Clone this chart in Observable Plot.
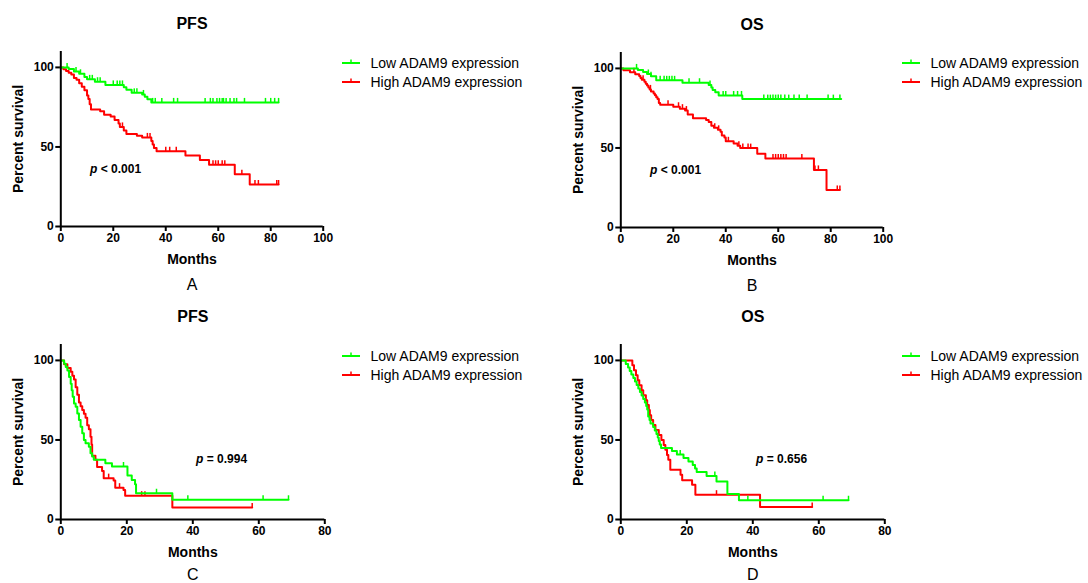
<!DOCTYPE html>
<html><head><meta charset="utf-8">
<script src="https://cdn.jsdelivr.net/npm/d3@7"></script>
<script src="https://cdn.jsdelivr.net/npm/@observablehq/plot@0.6"></script>
<style>
body{margin:0;background:#fff;font-family:"Liberation Sans",Arial,sans-serif;}
#root{position:relative;width:1088px;height:583px;overflow:hidden;background:#fff;}
.panel{position:absolute;width:540px;height:300px;}
.panel svg{max-width:none !important;}
.legend{position:absolute;font-size:14px;color:#000;}
.legend .row{display:flex;align-items:center;height:19.6px;white-space:nowrap;}
.pval{position:absolute;font-size:12px;font-weight:bold;line-height:14px;white-space:nowrap;}
</style></head><body><div id="root"></div>
<script>
// ---- data ----
const panelTitles = ["PFS", "OS", "PFS", "OS"];
const panelLetters = ["A", "B", "C", "D"];
const seriesNames = ["Low ADAM9 expression", "High ADAM9 expression"];
const pLabels = ["< 0.001", "< 0.001", "= 0.994", "= 0.656"];
const xMaxes = [100, 100, 80, 80];
const xTicksTop = [0, 20, 40, 60, 80, 100];
const xTicksBottom = [0, 20, 40, 60, 80];
const yTicks = [0, 50, 100];

// Panel A (PFS)
const aLowSteps = [[0,100],[3,99],[5,97.5],[7,96],[9,94],[10,92.5],[13,91],[17,89],[24,87.5],[25,86],[27,84],[31,83],[32,81.5],[33,80],[34.5,78]];
const aLowEnd = 83;
const aLowCens = [2.4,5.8,7.5,11,12,14,15,20,21.5,22.5,23.5,28,29,31.5,35,36,38.5,43,44.5,55,57,58,59.5,60.5,61.5,62,63,64.5,66,67,70,78,80,81.5,83];
const aHighSteps = [[0,100],[1,98.9],[2,97.8],[3,96.7],[4,95.6],[5,93.4],[6,92.3],[7,90.1],[8,87.9],[9,85.7],[10,82.4],[10.5,80.2],[11,76.9],[11.5,73.6],[15,72.5],[16.5,70.3],[19,69.2],[20.5,67],[22,64.8],[22.5,62.6],[24,60.4],[25,58.2],[29,57.1],[31,56],[34.5,53.8],[35,51.6],[35.5,49.4],[36.5,47.3],[47.5,44.6],[53,41.8],[56.5,38.8],[66.3,32.9],[72,26.4]];
const aHighEnd = 83;
const aHighCens = [23.5,33,34,40,41.5,44,58,59,60,61.5,62.5,69,74,75.3,82.3,83];

// Panel B (OS)
const bLowSteps = [[0,100],[6.5,99],[8.5,97.7],[10,96.5],[11.5,95],[13.5,92.5],[23.5,91],[33.5,89.5],[34.5,88],[35,86.5],[36,85],[37.3,83],[46.3,80.7]];
const bLowEnd = 84;
const bLowCens = [6,10.5,11.5,15,16.5,17.5,18.5,19.5,20.5,26,30,34,39,40,43,44.5,46,54.5,56,57,58,59,60,61,62.5,64,66,68,71,79,81,83.5];
const bHighSteps = [[0,100],[1,98.8],[3.5,97.6],[5.5,96.4],[7,95.2],[7.5,94],[8,92.8],[9,91.6],[9.5,90.4],[10,89.2],[10.5,88],[11,86.8],[11.5,85.5],[12.5,84.3],[13,83.1],[13.5,81.9],[14,80.7],[14.5,78.3],[15,77.1],[20,75.9],[22.5,74.7],[24.5,73.5],[25.5,71.1],[27.5,68.7],[32.5,67.5],[33.5,66.3],[34.5,63.9],[35.5,62.7],[37,61.4],[38,60.2],[38.5,57.8],[39.5,56.6],[40,54.2],[43,52.8],[44.5,51.4],[45.5,49.9],[52,46.3],[55.1,43.4],[73.6,36.2],[78.4,23.6]];
const bHighEnd = 83.5;
const bHighCens = [5,8.5,11.3,18,22,23.5,25,35.8,37.3,41,45,46.5,48.5,49.5,58,59,60,61,62,63,69,74,75.3,82.5,83.5];

// Panel C (PFS)
const cLowSteps = [[0,100],[1,97.9],[1.5,95.8],[2,93.7],[2.5,89.6],[3,85.4],[3.3,81.2],[3.6,77.1],[4,72.9],[4.5,70.8],[5,66.7],[5.5,62.5],[6,58.3],[6.5,54.2],[7,50],[7.5,47.9],[8.5,45.8],[9,41.7],[9.5,39.6],[10,37.5],[13.5,35.4],[15.5,33.3],[20.2,27.7],[21.5,24.9],[22.5,22.1],[22.8,16.5],[33.8,12.4]];
const cLowEnd = 69;
const cLowCens = [19,29,38.5,61.3,69];
const cHighSteps = [[0,100],[1,97.6],[2,95.2],[3,92.8],[3.5,90.4],[4,88],[4.5,83.2],[5,78.4],[5.5,73.6],[6,71.2],[6.5,68.8],[7,66.4],[7.5,64],[8,59.2],[8.5,56.8],[9,52],[9.3,47.2],[9.5,40],[10.5,37.5],[11,33],[12.5,30.5],[13,26],[16,24.5],[16.5,20],[19,18.5],[19.5,15],[33.8,7.5]];
const cHighEnd = 58;
const cHighCens = [14.5,17.8,24.5,25.5,58];

// Panel D (OS)
const dLowSteps = [[0,100],[1.5,97.8],[2.2,95.6],[2.7,93.4],[3.2,91.2],[3.8,89],[4.3,86.8],[4.8,84.6],[5.3,82.4],[5.8,80.2],[6.3,78],[6.8,75.8],[7.3,73.6],[7.7,71.4],[8,69.2],[8.3,64.8],[8.7,62.6],[9,60.4],[9.8,58.2],[10.3,56],[10.8,53.8],[11.2,51.6],[11.5,49.4],[11.8,47.2],[12.2,45],[15.5,43],[17,40.8],[19,38.6],[20.5,36.4],[21.8,34.2],[22.5,32],[23,29.8],[26,27.3],[29,23.9],[32.3,16],[35.8,12.1]];
const dLowEnd = 69;
const dLowCens = [18,28.5,38.5,61.3,69];
const dHighSteps = [[0,100],[3.5,96.9],[4,93.8],[4.6,90.6],[5.1,87.5],[5.6,84.4],[6.3,81.3],[6.8,78.1],[7.6,75],[8,71.9],[8.5,68.8],[8.8,65.6],[9.2,62.5],[9.8,59.4],[10.5,56.3],[11.5,53.1],[12.3,50],[13,46.9],[13.5,43.8],[14,40.6],[14.4,37.5],[15,31.3],[18.1,28.1],[18.6,24.6],[21.6,21.9],[22.6,15.6],[42.2,7.8]];
const dHighEnd = 58;
const dHighCens = [29,58];

// ---- helpers ----
const LOW = "#00ff00", HIGH = "#ff0000";
function curve(steps, end){
  const pts = steps.map(([t,s]) => ({t, s}));
  pts.push({t: end, s: steps[steps.length-1][1]});
  return pts;
}
function censors(steps, times){
  return times.map(t => {
    let s = steps[0][1];
    for (const [tt, ss] of steps) if (tt <= t) s = ss;
    return {t, s};
  });
}
const tickUp = {draw(ctx, size){ const r = Math.sqrt(size/Math.PI); ctx.moveTo(0,0); ctx.lineTo(0,-r); }};

const panels = [
  {low:[aLowSteps,aLowEnd,aLowCens], high:[aHighSteps,aHighEnd,aHighCens], left:0, top:0, xTicks:xTicksTop, letterDy:58},
  {low:[bLowSteps,bLowEnd,bLowCens], high:[bHighSteps,bHighEnd,bHighCens], left:560, top:0.7, xTicks:xTicksTop, letterDy:58},
  {low:[cLowSteps,cLowEnd,cLowCens], high:[cHighSteps,cHighEnd,cHighCens], left:0, top:293.3, xTicks:xTicksBottom, letterDy:55},
  {low:[dLowSteps,dLowEnd,dLowCens], high:[dHighSteps,dHighEnd,dHighCens], left:560, top:293.3, xTicks:xTicksBottom, letterDy:55}
];
const pPos = [[90,162],[650,163],[196,452],[756,452]];
const legendPos = [[341,52.9],[901,52.9],[341,346],[901,346]];

const root = document.getElementById("root");
panels.forEach((p, i) => {
  const xMax = xMaxes[i];
  const plotW = xMax === 100 ? 262.4 : 264;
  const W = 540, H = 300, ML = 60.3, MT = 51, MB = 74;
  const chart = Plot.plot({
    width: W, height: H,
    marginLeft: ML, marginRight: W - ML - plotW, marginTop: MT, marginBottom: MB,
    x: {domain: [0, xMax]},
    y: {domain: [0, 110]},
    style: {fontFamily: "'Liberation Sans', Arial, sans-serif", fontSize: "12px", fontWeight: "bold", color: "#000", background: "transparent", overflow: "visible", maxWidth: "none"},
    marks: [
      Plot.axisX({ticks: p.xTicks, tickSize: 5, tickPadding: 2, strokeWidth: 2, label: null}),
      Plot.axisY({ticks: yTicks, tickSize: 5, tickPadding: 2, strokeWidth: 2, label: null}),
      Plot.line(curve(p.high[0], p.high[1]), {x: "t", y: "s", curve: "step-after", stroke: HIGH, strokeWidth: 2}),
      Plot.dot(censors(p.high[0], p.high[2]), {x: "t", y: "s", symbol: tickUp, r: 4.5, fill: "none", stroke: HIGH, strokeWidth: 1.5}),
      Plot.line(curve(p.low[0], p.low[1]), {x: "t", y: "s", curve: "step-after", stroke: LOW, strokeWidth: 2}),
      Plot.dot(censors(p.low[0], p.low[2]), {x: "t", y: "s", symbol: tickUp, r: 4.5, fill: "none", stroke: LOW, strokeWidth: 1.5}),
      Plot.ruleX([0], {strokeWidth: 2, stroke: "#000"}),
      Plot.ruleY([0], {strokeWidth: 2, stroke: "#000"}),
      Plot.text(["Months"], {text: d => d, frameAnchor: "bottom", lineAnchor: "middle", dy: 33.3, fontSize: 14, fontWeight: "bold"}),
      Plot.text(["Percent survival"], {text: d => d, frameAnchor: "left", textAnchor: "middle", lineAnchor: "middle", rotate: -90, dx: -42.3, fontSize: 14, fontWeight: "bold"}),
      Plot.text([panelTitles[i]], {text: d => d, frameAnchor: "top", lineAnchor: "middle", dy: -28, fontSize: 16, fontWeight: "bold"}),
      Plot.text([panelLetters[i]], {text: d => d, frameAnchor: "bottom", lineAnchor: "middle", dy: p.letterDy, fontSize: 16, fontWeight: "normal"})
    ]
  });
  const div = document.createElement("div");
  div.className = "panel";
  div.style.left = p.left + "px";
  div.style.top = p.top + "px";
  div.appendChild(chart);
  root.appendChild(div);

  // p-value annotation
  const pv = document.createElement("div");
  pv.className = "pval";
  pv.style.left = pPos[i][0] + "px";
  pv.style.top = pPos[i][1] + "px";
  pv.innerHTML = "<i>p</i> " + pLabels[i];
  root.appendChild(pv);

  // legend
  const lg = d3.create("div").attr("class", "legend")
    .style("left", legendPos[i][0] + "px").style("top", legendPos[i][1] + "px");
  seriesNames.forEach((name, k) => {
    const color = k === 0 ? LOW : HIGH;
    const row = lg.append("div").attr("class", "row");
    const sv = row.append("svg").attr("width", 20).attr("height", 10).style("overflow", "visible");
    sv.append("line").attr("x1", 1).attr("x2", 19).attr("y1", 5).attr("y2", 5).attr("stroke", color).attr("stroke-width", 2);
    sv.append("line").attr("x1", 10).attr("x2", 10).attr("y1", 5).attr("y2", 1.5).attr("stroke", color).attr("stroke-width", 1.5);
    row.append("span").style("margin-left", "9.5px").text(name);
  });
  root.appendChild(lg.node());
});
</script></body></html>
